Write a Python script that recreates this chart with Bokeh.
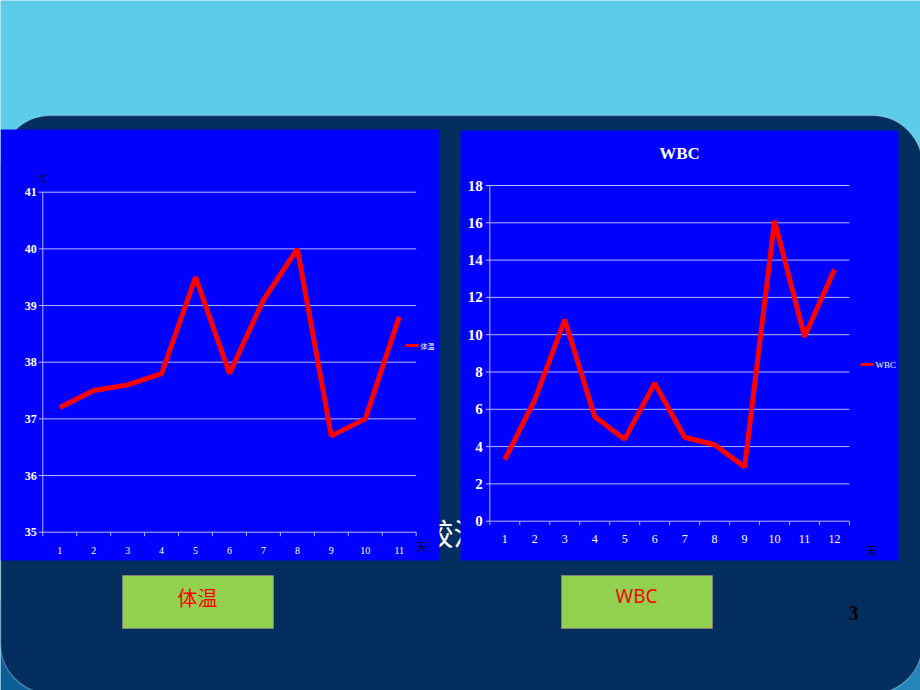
from bokeh.plotting import figure
from bokeh.models import Range1d, BoxAnnotation
from bokeh.core.properties import value
from bokeh.embed import file_html
from bokeh.resources import INLINE

# ---------------- data ----------------
temp_days = [1, 2, 3, 4, 5, 6, 7, 8, 9, 10, 11]
temp_vals = [37.2, 37.5, 37.6, 37.8, 39.5, 37.8, 39.1, 40.0, 36.7, 37.0, 38.8]
temp_ticks = [35, 36, 37, 38, 39, 40, 41]

wbc_days = [1, 2, 3, 4, 5, 6, 7, 8, 9, 10, 11, 12]
wbc_vals = [3.3, 6.5, 10.8, 5.6, 4.4, 7.4, 4.5, 4.1, 2.9, 16.1, 9.9, 13.5]
wbc_ticks = [0, 2, 4, 6, 8, 10, 12, 14, 16, 18]

temp_name = "体温"
wbc_name = "WBC"

# ---------------- slide canvas ----------------
W, H = 920, 690
p = figure(width=W, height=H, x_range=Range1d(0, W), y_range=Range1d(H, 0),
           output_backend="svg", toolbar_location=None,
           x_axis_location=None, y_axis_location=None, min_border=0)
p.grid.visible = False
p.outline_line_color = None
p.background_fill_color = "#5DCCE9"
p.border_fill_color = "#5DCCE9"

# darker gradient near the bottom corners
p.quad(left=[0, 460], right=[460, 920], top=[600, 600], bottom=[690, 690],
       fill_color=["#0D5E97", "#2385B8"], line_color=None, level="image")

panel = BoxAnnotation(left=0, right=922, top=115, bottom=693,
                      fill_color="#042E5E", fill_alpha=1.0,
                      line_color="#CFE8F5", line_width=1.5,
                      border_radius=50, level="underlay")
p.add_layout(panel)

# hidden text behind the charts (only partly visible in the gap)
p.text(x=[423], y=[531], text=["较温"], text_color="white",
       text_font=value("Noto Sans CJK SC"), text_font_size="30px",
       text_align="left", text_baseline="middle")

# chart backgrounds
p.quad(left=[0, 460], right=[439, 898], top=[129, 130], bottom=[560, 560],
       fill_color="#0000FF", line_color=None)

GRID = "#B8B8FF"


def add_chart(key, days, vals, ticks, L, R, ptop, pbot, ylab_size, xlab_size, ylab_off):
    n = len(days)
    ux = (R - L) / n
    vtop, vbot = ticks[-1], ticks[0]
    uy = (pbot - ptop) / (vtop - vbot)
    xr = key + "x"
    yr = key + "y"
    p.extra_x_ranges[xr] = Range1d(0.5 + (0 - L) / ux, 0.5 + (W - L) / ux)
    p.extra_y_ranges[yr] = Range1d(vbot - (H - pbot) / uy, vbot + pbot / uy)
    kw = dict(x_range_name=xr, y_range_name=yr)
    x0, x1 = 0.5, n + 0.5
    # gridlines
    p.segment(x0=[x0] * len(ticks), x1=[x1] * len(ticks), y0=ticks, y1=ticks,
              line_color=GRID, line_width=1, **kw)
    # y axis line + ticks
    p.segment(x0=[x0], x1=[x0], y0=[vbot], y1=[vtop], line_color=GRID, line_width=1, **kw)
    tl = 4.0
    p.segment(x0=[x0 - tl / ux] * len(ticks), x1=[x0] * len(ticks), y0=ticks, y1=ticks,
              line_color=GRID, line_width=1, **kw)
    # x ticks at category boundaries
    bounds = [b + 0.5 for b in range(0, n + 1)]
    p.segment(x0=bounds, x1=bounds, y0=[vbot] * len(bounds), y1=[vbot - tl / uy] * len(bounds),
              line_color=GRID, line_width=1, **kw)
    # y tick labels
    p.text(x=[x0] * len(ticks), y=ticks, text=[str(t) for t in ticks],
           text_color="white", text_font=value("Liberation Serif"),
           text_font_size=ylab_size, text_font_style="bold",
           text_align="right", text_baseline="middle", x_offset=ylab_off, **kw)
    # x tick labels
    p.text(x=days, y=[vbot] * n, text=[str(d) for d in days],
           text_color="white", text_font=value("Liberation Serif"),
           text_font_size=xlab_size, text_align="center", text_baseline="middle",
           y_offset=18, **kw)
    # data line
    p.line(x=days, y=vals, line_color="#FF0000", line_width=5, **kw)


add_chart("c1", temp_days, temp_vals, temp_ticks, 42.3, 415.7, 191.7, 531.7, "12px", "10px", -6)
add_chart("c2", wbc_days, wbc_vals, wbc_ticks, 489.3, 849.0, 185.0, 520.7, "15px", "12px", -7)

# chart decorations
p.text(x=[679], y=[153], text=[wbc_name], text_color="white",
       text_font=value("Liberation Serif"), text_font_size="17px",
       text_font_style="bold", text_align="center", text_baseline="middle")
p.text(x=[42], y=[178], text=["℃"], text_color="#000020",
       text_font=value("Noto Sans CJK SC"), text_font_size="10px",
       text_align="center", text_baseline="middle")
p.text(x=[421, 871], y=[545, 549], text=["天", "天"], text_color="#000020",
       text_font=value("Noto Sans CJK SC"), text_font_size="11px",
       text_align="center", text_baseline="middle")
# legends
p.segment(x0=[405, 860], x1=[418, 873], y0=[345, 364], y1=[345, 364],
          line_color="#FF0000", line_width=3)
p.text(x=[420], y=[345], text=[temp_name], text_color="white",
       text_font=value("Noto Sans CJK SC"), text_font_size="7px",
       text_align="left", text_baseline="middle")
p.text(x=[875], y=[364], text=[wbc_name], text_color="white",
       text_font=value("Liberation Serif"), text_font_size="9px",
       text_align="left", text_baseline="middle")

# green label boxes
p.quad(left=[122, 561], right=[273, 712], top=[575, 575], bottom=[628, 628],
       fill_color="#92D050", line_color="#7F7F7F", line_width=1)
p.text(x=[197], y=[597], text=[temp_name], text_color="#FF0000",
       text_font=value("Noto Sans CJK SC"), text_font_size="20px",
       text_align="center", text_baseline="middle")
p.text(x=[636], y=[595], text=[wbc_name], text_color="#FF0000",
       text_font=value("Noto Sans"), text_font_size="19px",
       text_align="center", text_baseline="middle")

# page number
p.text(x=[853], y=[612], text=["3"], text_color="black",
       text_font=value("Liberation Serif"), text_font_size="20px",
       text_font_style="bold", text_align="center", text_baseline="middle")

open("out.html", "w").write(file_html(p, INLINE))
